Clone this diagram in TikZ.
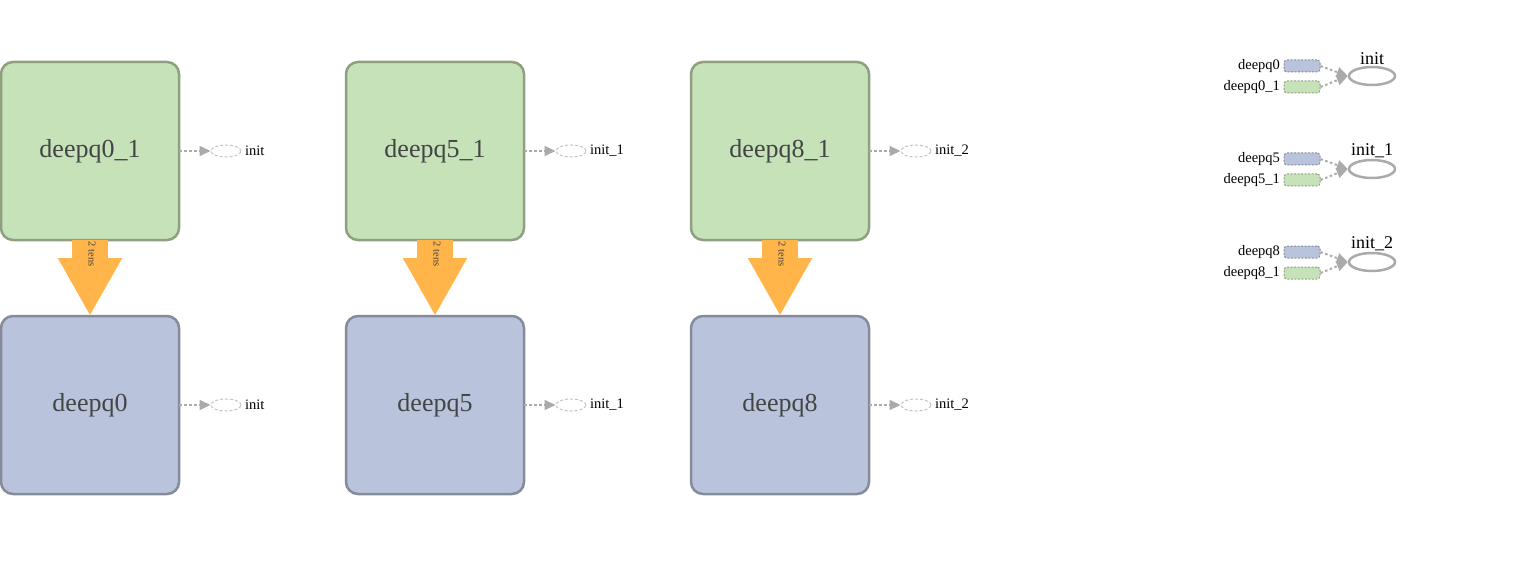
\documentclass[tikz,border=0pt]{standalone}
\usepackage{fontspec}
\setmainfont{Liberation Serif}
\usetikzlibrary{arrows.meta}
\usetikzlibrary{shapes.geometric}
\definecolor{opgreen}{HTML}{C6E2B8}
\definecolor{opgreenline}{HTML}{8EA080}
\definecolor{opblue}{HTML}{B9C4DC}
\definecolor{opblueline}{HTML}{858B9A}
\definecolor{floworange}{HTML}{FFB54A}
\definecolor{textgray}{HTML}{444444}
\definecolor{linkgray}{HTML}{AAAAAA}
\tikzset{
  opbox/.style = {draw, rounded corners=12pt, line width=2.5pt,
                  minimum width=178pt, minimum height=178pt, outer sep=0pt,
                  text=textgray, font=\fontsize{26}{30}\selectfont},
  gradop/.style = {opbox, fill=opgreen, draw=opgreenline},
  fwdop/.style = {opbox, fill=opblue, draw=opblueline},
  bigflow/.style = {floworange, line width=36pt,
                    -{Triangle[width=60pt,length=58pt]}},
  flowlabel/.style = {rotate=-90, inner sep=1pt, text=textgray,
                      font=\fontsize{10.5}{11}\selectfont},
  ctlink/.style = {linkgray, line width=2pt, dash pattern=on 2.5pt off 2.5pt,
                   -{Triangle[width=10pt,length=11pt]}},
  initref/.style = {ellipse, draw=linkgray!70, line width=1pt,
                    dash pattern=on 3pt off 2pt, inner sep=0pt,
                    minimum width=30pt, minimum height=12pt,
                    label={[font=\fontsize{14.5}{16}\selectfont]right:#1}},
  keybox/.style = {draw, rounded corners=3pt, line width=1pt,
                   dash pattern=on 2pt off 1.5pt, inner sep=0pt,
                   minimum width=36pt, minimum height=12pt,
                   label={[font=\fontsize{14.5}{16}\selectfont]left:#1}},
  initkey/.style = {ellipse, draw=linkgray, line width=2.5pt, inner sep=0pt,
                    minimum width=46pt, minimum height=18pt,
                    label={[font=\fontsize{18}{20}\selectfont,
                            inner sep=1pt]above:#1}}
}
\begin{document}
\begin{tikzpicture}[x=1pt,y=-1pt]
  \useasboundingbox (0,0) rectangle (1515,572);
  % gradient ops and forward ops
  \node[gradop] (dq0g) at (90,151) {deepq0\_1};
  \node[gradop] (dq5g) at (435,151) {deepq5\_1};
  \node[gradop] (dq8g) at (780,151) {deepq8\_1};
  \node[fwdop] (dq0) at (90,405) {deepq0};
  \node[fwdop] (dq5) at (435,405) {deepq5};
  \node[fwdop] (dq8) at (780,405) {deepq8};
  % tensor flow between them
  \draw[bigflow] (dq0g.south) -- (dq0.north);
  \draw[bigflow] (dq5g.south) -- (dq5.north);
  \draw[bigflow] (dq8g.south) -- (dq8.north);
  \node[flowlabel] (t0) at ([xshift=2pt,yshift=-14pt]dq0g.south) {2 tens};
  \node[flowlabel] (t5) at ([xshift=2pt,yshift=-14pt]dq5g.south) {2 tens};
  \node[flowlabel] (t8) at ([xshift=2pt,yshift=-14pt]dq8g.south) {2 tens};
  % control inputs
  \node[initref=init] (i0g) at (226,151) {};
  \node[initref=init\_1] (i5g) at (571,151) {};
  \node[initref=init\_2] (i8g) at (916,151) {};
  \node[initref=init] (i0) at (226,405) {};
  \node[initref=init\_1] (i5) at (571,405) {};
  \node[initref=init\_2] (i8) at (916,405) {};
  \draw[ctlink] (dq0g.east) -- (i0g.west);
  \draw[ctlink] (dq5g.east) -- (i5g.west);
  \draw[ctlink] (dq8g.east) -- (i8g.west);
  \draw[ctlink] (dq0.east) -- (i0.west);
  \draw[ctlink] (dq5.east) -- (i5.west);
  \draw[ctlink] (dq8.east) -- (i8.west);
  % legend
  \node[keybox=deepq0, fill=opblue, draw=opblueline] (k0) at (1302,66) {};
  \node[keybox=deepq0\_1, fill=opgreen, draw=opgreenline] (k0g) at (1302,87) {};
  \node[initkey=init] (ki0) at (1372,76) {};
  \node[keybox=deepq5, fill=opblue, draw=opblueline] (k5) at (1302,159) {};
  \node[keybox=deepq5\_1, fill=opgreen, draw=opgreenline] (k5g) at (1302,180) {};
  \node[initkey=init\_1] (ki5) at (1372,169) {};
  \node[keybox=deepq8, fill=opblue, draw=opblueline] (k8) at (1302,252) {};
  \node[keybox=deepq8\_1, fill=opgreen, draw=opgreenline] (k8g) at (1302,273) {};
  \node[initkey=init\_2] (ki8) at (1372,262) {};
  \draw[ctlink] (k0.east) -- (ki0.west);
  \draw[ctlink] (k0g.east) -- (ki0.west);
  \draw[ctlink] (k5.east) -- (ki5.west);
  \draw[ctlink] (k5g.east) -- (ki5.west);
  \draw[ctlink] (k8.east) -- (ki8.west);
  \draw[ctlink] (k8g.east) -- (ki8.west);
\end{tikzpicture}
\end{document}
